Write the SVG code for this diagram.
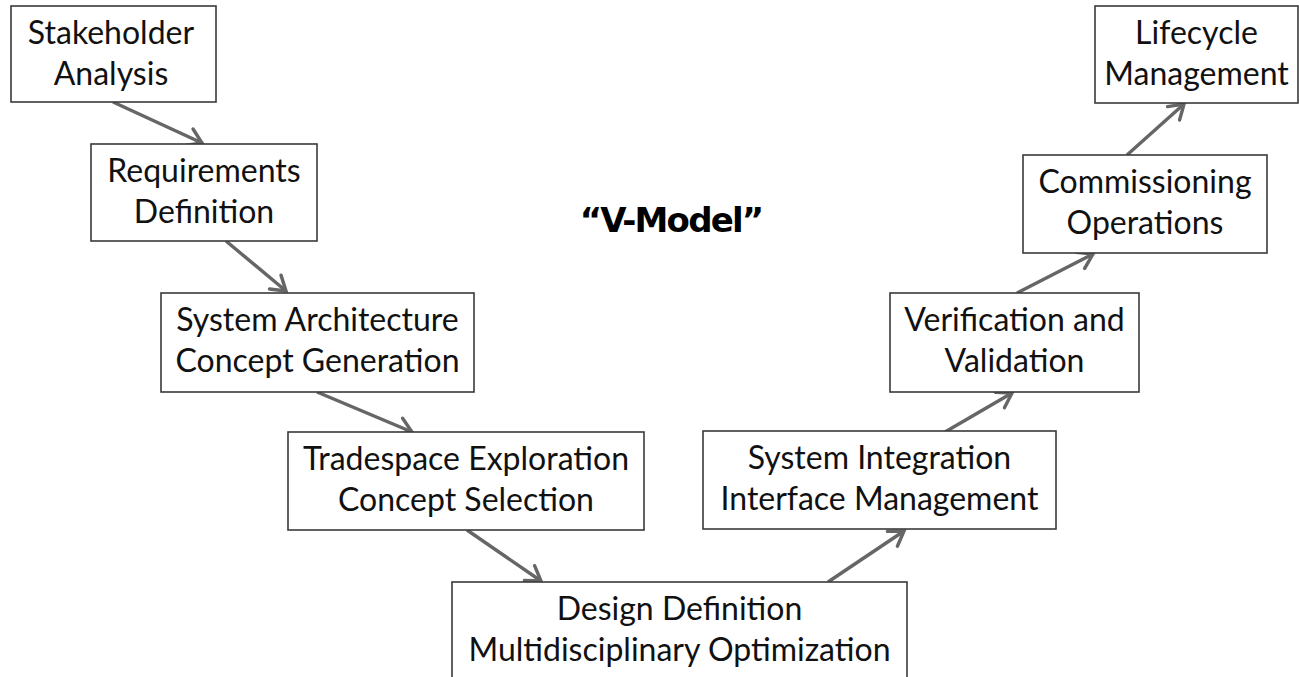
<svg xmlns="http://www.w3.org/2000/svg" width="1299" height="677" viewBox="0 0 1299 677">
  <style>
    .box { fill: #ffffff; stroke: #3a3a3a; stroke-width: 1.6; }
    .lbl { font-family: Lato, "Liberation Sans", sans-serif; font-size: 32px; fill: #111111; text-anchor: middle; }
    .title { font-family: "DejaVu Sans", Verdana, sans-serif; font-weight: bold; font-size: 34px; letter-spacing: -1.8px; fill: #000000; text-anchor: middle; }
    .conn { stroke: #666666; stroke-width: 3.4; fill: none; marker-end: url(#head); }
  </style>
  <defs>
    <marker id="head" markerUnits="userSpaceOnUse" viewBox="0 0 22 22" refX="19" refY="11" markerWidth="22" markerHeight="22" orient="auto">
      <path d="M5,2 L19,11 L5,20" fill="none" stroke="#666666" stroke-width="3.4" stroke-linecap="round" stroke-linejoin="miter"/>
    </marker>
  </defs>
  <rect width="1299" height="677" fill="#ffffff"/>

  <g id="connectors">
    <line class="conn" x1="113" y1="102" x2="202" y2="143"/>
    <line class="conn" x1="226" y1="241" x2="286" y2="291"/>
    <line class="conn" x1="317" y1="392" x2="412" y2="432"/>
    <line class="conn" x1="467" y1="530" x2="541" y2="581"/>
    <line class="conn" x1="828" y1="582" x2="904" y2="531"/>
    <line class="conn" x1="945" y1="432" x2="1012" y2="393"/>
    <line class="conn" x1="1017" y1="293" x2="1093" y2="254"/>
    <line class="conn" x1="1127" y1="155" x2="1184" y2="104"/>
  </g>

  <g id="stakeholder">
    <rect class="box" x="11" y="6" width="205" height="96"/>
    <text class="lbl" x="111" y="44">Stakeholder</text>
    <text class="lbl" x="111" y="85">Analysis</text>
  </g>
  <g id="requirements">
    <rect class="box" x="91" y="144" width="226" height="97"/>
    <text class="lbl" x="204" y="182">Requirements</text>
    <text class="lbl" x="204" y="223">Definition</text>
  </g>
  <g id="architecture">
    <rect class="box" x="161" y="293" width="313" height="99"/>
    <text class="lbl" x="317.5" y="331">System Architecture</text>
    <text class="lbl" x="317.5" y="372">Concept Generation</text>
  </g>
  <g id="tradespace">
    <rect class="box" x="288" y="432" width="356" height="98"/>
    <text class="lbl" x="466" y="470">Tradespace Exploration</text>
    <text class="lbl" x="466" y="511">Concept Selection</text>
  </g>
  <g id="design">
    <rect class="box" x="452" y="582" width="455" height="100"/>
    <text class="lbl" x="679.5" y="620">Design Definition</text>
    <text class="lbl" x="679.5" y="661">Multidisciplinary Optimization</text>
  </g>
  <g id="integration">
    <rect class="box" x="703" y="431" width="353" height="98"/>
    <text class="lbl" x="879.5" y="469">System Integration</text>
    <text class="lbl" x="879.5" y="510">Interface Management</text>
  </g>
  <g id="verification">
    <rect class="box" x="890" y="293" width="249" height="99"/>
    <text class="lbl" x="1014.5" y="331">Verification and</text>
    <text class="lbl" x="1014.5" y="372">Validation</text>
  </g>
  <g id="commissioning">
    <rect class="box" x="1023" y="155" width="244" height="98"/>
    <text class="lbl" x="1145" y="193">Commissioning</text>
    <text class="lbl" x="1145" y="234">Operations</text>
  </g>
  <g id="lifecycle">
    <rect class="box" x="1095" y="6" width="203" height="97"/>
    <text class="lbl" x="1196.5" y="44">Lifecycle</text>
    <text class="lbl" x="1196.5" y="85">Management</text>
  </g>

  <g id="title">
    <text class="title" x="671" y="232">“V-Model”</text>
  </g>
</svg>
